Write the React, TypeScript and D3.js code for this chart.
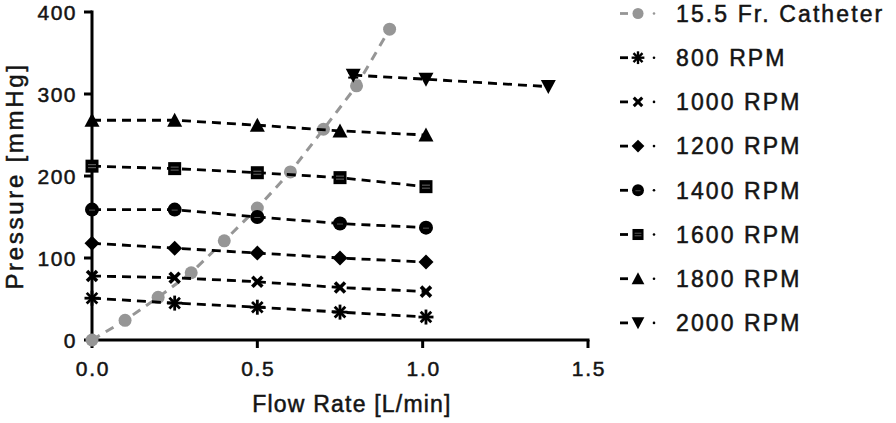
import React from 'react';
import * as d3 from 'd3';

const catheterFlow = [0, 0.1, 0.2, 0.3, 0.4, 0.5, 0.6, 0.7, 0.8, 0.9];
const catheterPressure = [0, 24, 52, 82, 121, 161, 205, 257, 310, 379];

const rpmFlow = [0, 0.25, 0.5, 0.75, 1.01];
const p800 = [51, 45, 40, 34, 28];
const p1000 = [78, 76, 71, 64, 59];
const p1200 = [118, 112, 106, 100, 95];
const p1400 = [159, 159, 150, 142, 137];
const p1600 = [212, 209, 204, 198, 187];
const p1800 = [268, 268, 262, 255, 250];
const err1400 = [0, 4, 0, 0, 0];
const err1600 = [0, 0, 0, 0, 5];
const flow2000 = [0.79, 1.01, 1.38];
const p2000 = [323, 318, 309];
const err2000 = [3, 0, 0];

const legendLabels = ['15.5 Fr. Catheter', '800 RPM', '1000 RPM', '1200 RPM', '1400 RPM', '1600 RPM', '1800 RPM', '2000 RPM'];
const xTicks = [0, 0.5, 1.0, 1.5];
const yTicks = [0, 100, 200, 300, 400];

type Shape = 'circle' | 'asterisk' | 'cross' | 'diamond' | 'dotcircle' | 'square' | 'triangle' | 'triangledown';

const FONT = '"Liberation Sans", Arial, Helvetica, sans-serif';
const TXT = '#141414';

function Marker({ shape, x, y, s = 1, color = '#000' }: { shape: Shape; x: number; y: number; s?: number; color?: string }) {
  const t = `translate(${x},${y}) scale(${s})`;
  switch (shape) {
    case 'circle':
      return <circle transform={t} r={6.5} fill={color} />;
    case 'asterisk':
      return (
        <g transform={t} stroke={color} strokeWidth={2.8} strokeLinecap="butt">
          {[0, 45, 90, 135].map((a) => (
            <line key={a} x1={-7.5} y1={0} x2={7.5} y2={0} transform={`rotate(${a})`} />
          ))}
        </g>
      );
    case 'cross':
      return (
        <g transform={t} stroke={color} strokeWidth={3.6}>
          <line x1={-5} y1={-5} x2={5} y2={5} />
          <line x1={-5} y1={5} x2={5} y2={-5} />
        </g>
      );
    case 'diamond':
      return <path transform={t} d="M0,-7.5L7.5,0L0,7.5L-7.5,0Z" fill={color} />;
    case 'dotcircle':
      return (
        <g transform={t}>
          <circle r={7} fill={color} />
          <line x1={-3} y1={0.5} x2={3} y2={0.5} stroke="#555" strokeWidth={1} />
        </g>
      );
    case 'square':
      return (
        <g transform={t}>
          <rect x={-6.5} y={-6.5} width={13} height={13} fill={color} />
          <line x1={-4} y1={-1.5} x2={4} y2={-1.5} stroke="#666" strokeWidth={1} />
          <line x1={-4} y1={1.5} x2={4} y2={1.5} stroke="#666" strokeWidth={1} />
        </g>
      );
    case 'triangle':
      return <path transform={t} d="M0,-7.5L7.5,6.5L-7.5,6.5Z" fill={color} />;
    case 'triangledown':
      return <path transform={t} d="M0,7.5L7.5,-6.5L-7.5,-6.5Z" fill={color} />;
  }
  return null;
}

export default function App() {
  const width = 896;
  const height = 423;
  const x = d3.scaleLinear().domain([0, 1.5]).range([92, 588]);
  const y = d3.scaleLinear().domain([0, 400]).range([340, 12]);

  const line = d3
    .line<[number, number]>()
    .x((d) => x(d[0]))
    .y((d) => y(d[1]));

  const rpmSeries: { label: string; flow: number[]; p: number[]; err?: number[]; shape: Shape }[] = [
    { label: legendLabels[1], flow: rpmFlow, p: p800, shape: 'asterisk' },
    { label: legendLabels[2], flow: rpmFlow, p: p1000, shape: 'cross' },
    { label: legendLabels[3], flow: rpmFlow, p: p1200, shape: 'diamond' },
    { label: legendLabels[4], flow: rpmFlow, p: p1400, err: err1400, shape: 'dotcircle' },
    { label: legendLabels[5], flow: rpmFlow, p: p1600, err: err1600, shape: 'square' },
    { label: legendLabels[6], flow: rpmFlow, p: p1800, shape: 'triangle' },
    { label: legendLabels[7], flow: flow2000, p: p2000, err: err2000, shape: 'triangledown' },
  ];

  const gray = '#969696';
  const legendShapes: Shape[] = ['circle', ...rpmSeries.map((s) => s.shape)];
  const txtStyle = { stroke: TXT, strokeWidth: 0.5 } as const;

  return (
    <svg width={width} height={height} style={{ display: 'block', position: 'absolute', left: 0, top: 0 }} fontFamily={FONT}>
      <rect width={width} height={height} fill="#fff" />

      {/* axes */}
      <g stroke="#000" strokeWidth={3} fill="none">
        <line x1={x(0)} y1={y(400) - 1.5} x2={x(0)} y2={y(0) + 1.5} />
        <line x1={x(0) - 1.5} y1={y(0)} x2={x(1.5) + 1.5} y2={y(0)} />
        {yTicks.map((t) => (
          <line key={t} x1={x(0) - 8} y1={y(t)} x2={x(0)} y2={y(t)} />
        ))}
        {xTicks.map((t) => (
          <line key={t} x1={x(t)} y1={y(0)} x2={x(t)} y2={y(0) + 8} />
        ))}
      </g>
      {yTicks.map((t) => (
        <text key={t} x={77} y={y(t)} dy="0.36em" textAnchor="end" fontSize={21} letterSpacing={1.5} fill={TXT} {...txtStyle}>
          {t}
        </text>
      ))}
      {xTicks.map((t) => (
        <text key={t} x={x(t) + 1} y={376} textAnchor="middle" fontSize={21} letterSpacing={1.7} fill={TXT} {...txtStyle}>
          {d3.format('.1f')(t)}
        </text>
      ))}
      <text x={352} y={412} textAnchor="middle" fontSize={23} letterSpacing={1.2} fill={TXT} {...txtStyle}>
        Flow Rate [L/min]
      </text>
      <text transform="translate(23,176) rotate(-90)" textAnchor="middle" fontSize={24} letterSpacing={2.7} fill={TXT} {...txtStyle}>
        Pressure [mmHg]
      </text>

      {/* catheter */}
      <path
        d={line(catheterFlow.map((f, i) => [f, catheterPressure[i]]) as [number, number][]) || ''}
        fill="none"
        stroke={gray}
        strokeWidth={3}
        strokeDasharray="9,7"
      />
      {catheterFlow.map((f, i) => (
        <Marker key={i} shape="circle" x={x(f)} y={y(catheterPressure[i])} color={gray} />
      ))}

      {/* RPM series */}
      {rpmSeries.map((s) => (
        <g key={s.label}>
          <path
            d={line(s.flow.map((f, i) => [f, s.p[i]]) as [number, number][]) || ''}
            fill="none"
            stroke="#000"
            strokeWidth={2.8}
            strokeDasharray="9,6"
          />
          {s.err &&
            s.flow.map((f, i) =>
              s.err![i] > 0 ? (
                <g key={'e' + i} stroke="#000" strokeWidth={2}>
                  <line x1={x(f)} x2={x(f)} y1={y(s.p[i] - s.err![i])} y2={y(s.p[i] + s.err![i])} />
                  <line x1={x(f) - 5} x2={x(f) + 5} y1={y(s.p[i] - s.err![i])} y2={y(s.p[i] - s.err![i])} />
                  <line x1={x(f) - 5} x2={x(f) + 5} y1={y(s.p[i] + s.err![i])} y2={y(s.p[i] + s.err![i])} />
                </g>
              ) : null
            )}
          {s.flow.map((f, i) => (
            <Marker key={i} shape={s.shape} x={x(f)} y={y(s.p[i])} />
          ))}
        </g>
      ))}

      {/* legend */}
      {legendLabels.map((lab, i) => {
        const cy = 13.5 + 44.2 * i;
        const c = i === 0 ? gray : '#000';
        return (
          <g key={lab}>
            <line x1={620} x2={628} y1={cy} y2={cy} stroke={c} strokeWidth={2.8} />
            <Marker shape={legendShapes[i]} x={638} y={cy} s={0.85} color={c} />
            <circle cx={654} cy={cy} r={1.3} fill={c} />
            <text x={676} y={cy} dy="0.36em" fontSize={23} letterSpacing={2.1} fill={TXT} {...txtStyle}>
              {lab}
            </text>
          </g>
        );
      })}
    </svg>
  );
}
